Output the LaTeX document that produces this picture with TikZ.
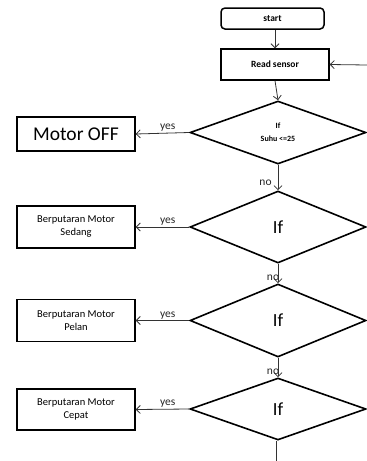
\documentclass[tikz,border=0pt]{standalone}
\usepackage{fontspec}
\setmainfont{Carlito}
\usetikzlibrary{shapes.geometric,arrows.meta}

\tikzstyle{terminal}=[draw,rectangle,rounded corners=4pt,line width=1.5pt,minimum width=103pt,minimum height=21pt,inner sep=0pt,font=\fontsize{9.5}{11}\selectfont\bfseries]
\tikzstyle{process}=[draw,rectangle,line width=1.4pt,minimum width=108pt,minimum height=31pt,inner sep=0pt,font=\fontsize{9.5}{11}\selectfont\bfseries]
\tikzstyle{decision}=[draw,diamond,line width=1.6pt,minimum width=176pt,inner sep=0pt,align=center,font=\fontsize{18.5}{20}\selectfont]
\tikzstyle{action}=[draw,rectangle,line width=1.4pt,minimum width=118pt,inner sep=0pt,align=center,font=\fontsize{10.5}{13}\selectfont]
\tikzstyle{flow}=[draw=black!80,line width=0.8pt,-{Straight Barb[length=4pt,width=8pt]}]
\tikzstyle{answer}=[font=\fontsize{11.5}{13}\selectfont,inner sep=1pt,text=black!85]

\begin{document}
\begin{tikzpicture}[x=1pt,y=-1pt]
      \useasboundingbox (0,0) rectangle (367,461);
      % main column
      \node [terminal] (start) at (272.5,18.5) {start};
      \node [process] (read) at (275,64.5) {Read sensor};
      \node [decision,minimum height=63pt,font=\fontsize{8}{13}\selectfont\bfseries] (d1) at (278,132.5) {If\\Suhu <=25};
      \node [decision,minimum height=72pt] (d2) at (278,227) {If};
      \node [decision,minimum height=73pt] (d3) at (278,320.5) {If};
      \node [decision,minimum height=62pt] (d4) at (278,409) {If};
      % outputs on the left
      \node [action,minimum height=34pt,font=\fontsize{19.5}{22}\selectfont] (off) at (76,134) {Motor OFF};
      \node [action,minimum height=42pt] (sedang) at (76,227) {Berputaran Motor\\Sedang};
      \node [action,minimum height=42pt] (pelan) at (76,320.5) {Berputaran Motor\\Pelan};
      \node [action,minimum height=41pt] (cepat) at (76,409.5) {Berputaran Motor\\Cepat};
      \coordinate (loop) at (367,65);
      \coordinate (end) at (276,461);

      \draw [flow] (start.south -| read.north) -- (read.north);
      \draw [flow] (loop) -- (read.east);
      \draw [flow] (read.south) -- (d1.north);
      \draw [flow] (d1.south) -- (d2.north) node[answer,left,pos=0.7,xshift=-5pt] {no};
      \draw [flow] (d2.south) -- (d3.north) node[answer,left,pos=0.7,xshift=2.5pt] {no};
      \draw [flow] (d3.south) -- (d4.north) node[answer,left,pos=0.7,xshift=2.5pt] {no};
      \draw [draw=black!80,line width=0.8pt] (d4.south -| end) -- (end);

      \draw [flow] (d1.west) -- (off.east) node[answer,above,pos=0.4] {yes};
      \draw [flow] (d2.west) -- (sedang.east) node[answer,above,pos=0.4] {yes};
      \draw [flow] (d3.west) -- (pelan.east) node[answer,above,pos=0.4] {yes};
      \draw [flow] (d4.west) -- (cepat.east) node[answer,above,pos=0.4] {yes};
\end{tikzpicture}
\end{document}
